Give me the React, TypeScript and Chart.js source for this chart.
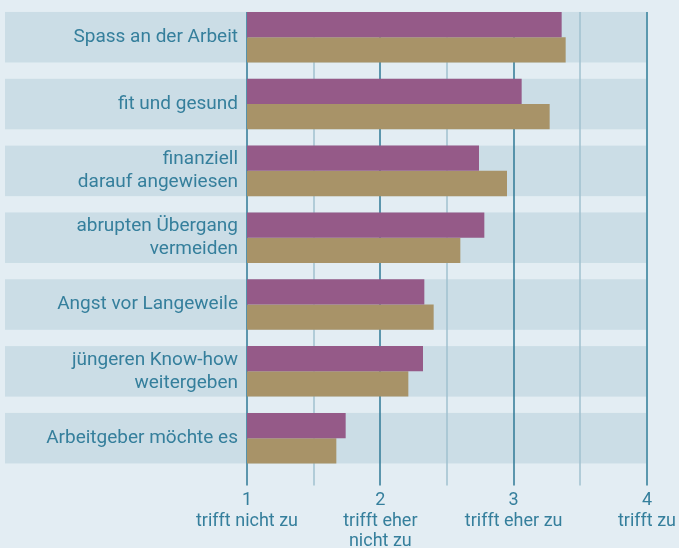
import React, { useEffect, useRef } from "react";
import { Chart, registerables } from "chart.js";

Chart.register(...registerables);

const categories: (string | string[])[] = [
  "Spass an der Arbeit",
  "fit und gesund",
  ["finanziell", "darauf angewiesen"],
  ["abrupten Übergang", "vermeiden"],
  "Angst vor Langeweile",
  ["jüngeren Know-how", "weitergeben"],
  "Arbeitgeber möchte es",
];

const seriesPurple = [3.36, 3.06, 2.74, 2.78, 2.33, 2.32, 1.74];
const seriesTan = [3.39, 3.27, 2.95, 2.6, 2.4, 2.21, 1.67];

const tickLabels: Record<number, string[]> = {
  1: ["1", "trifft nicht zu"],
  2: ["2", "trifft eher", "nicht zu"],
  3: ["3", "trifft eher zu"],
  4: ["4", "trifft zu"],
};

const BG = "#e3edf3";
const BAND = "#cbdde6";
const TEXT = "#357f9c";
const PURPLE = "#955a88";
const TAN = "#a89368";
const CAT_PCT = 0.756;

const decorPlugin = {
  id: "decor",
  beforeDraw(chart: any) {
    const { ctx, chartArea, scales } = chart;
    ctx.save();
    ctx.fillStyle = BG;
    ctx.fillRect(0, 0, chart.width, chart.height);
    const y = scales.y;
    const n = categories.length;
    const pitch = (chartArea.bottom - chartArea.top) / n;
    const h = pitch * CAT_PCT;
    ctx.fillStyle = BAND;
    for (let i = 0; i < n; i++) {
      const c = y.getPixelForValue(i);
      ctx.fillRect(5, c - h / 2, chartArea.right - 5, h);
    }
    ctx.restore();
  },
  beforeDatasetsDraw(chart: any) {
    const { ctx, chartArea, scales } = chart;
    const x = scales.x;
    const n = categories.length;
    const pitch = (chartArea.bottom - chartArea.top) / n;
    const top = chartArea.top + (pitch * (1 - CAT_PCT)) / 2;
    const bottom = chartArea.bottom + 14;
    ctx.save();
    for (const t of x.ticks) {
      const v = t.value;
      const px = Math.round(x.getPixelForValue(v));
      const isInt = Math.abs(v - Math.round(v)) < 1e-6;
      if (v === 4) {
        ctx.strokeStyle = "#5b98ae";
        ctx.lineWidth = 2;
      } else if (isInt) {
        ctx.strokeStyle = "#2f7896";
        ctx.lineWidth = 1.5;
      } else {
        ctx.strokeStyle = "#a0c1cf";
        ctx.lineWidth = 1.5;
      }
      ctx.beginPath();
      ctx.moveTo(px, top);
      ctx.lineTo(px, bottom);
      ctx.stroke();
    }
    ctx.restore();
  },
};

export default function App() {
  const ref = useRef<HTMLCanvasElement>(null);
  useEffect(() => {
    document.body.style.margin = "0";
    const canvas = ref.current!;
    const chart = new Chart(canvas, {
      type: "bar",
      data: {
        labels: categories as any,
        datasets: [
          {
            label: "Gruppe 1",
            data: seriesPurple,
            backgroundColor: PURPLE,
            categoryPercentage: CAT_PCT,
            barPercentage: 1,
            borderWidth: 0,
          },
          {
            label: "Gruppe 2",
            data: seriesTan,
            backgroundColor: TAN,
            categoryPercentage: CAT_PCT,
            barPercentage: 1,
            borderWidth: 0,
          },
        ],
      },
      options: {
        indexAxis: "y",
        animation: false,
        responsive: false,
        devicePixelRatio: 1,
        layout: { padding: { top: 3.8, left: 0, right: 32, bottom: 0 } },
        plugins: {
          legend: { display: false },
          tooltip: { enabled: false },
        },
        scales: {
          x: {
            min: 1,
            max: 4,
            grid: { display: true, color: "rgba(0,0,0,0)", drawTicks: false },
            border: { display: false },
            ticks: {
              stepSize: 0.5,
              autoSkip: false,
              maxRotation: 0,
              padding: 19,
              color: TEXT,
              font: { family: "Roboto", size: 18, lineHeight: 1.14 },
              callback: (v: any) => {
                const n = Number(v);
                return tickLabels[n] ? tickLabels[n] : "";
              },
            },
            afterFit: (scale: any) => {
              scale.height = 76.4;
              scale.paddingLeft = 0;
              scale.paddingRight = 0;
            },
          },
          y: {
            grid: { display: false, drawTicks: false },
            border: { display: false },
            ticks: {
              padding: 9,
              color: TEXT,
              font: { family: "Roboto", size: 19, lineHeight: 1.22 },
            },
            afterFit: (scale: any) => {
              scale.width = 247;
              scale.paddingTop = 0;
              scale.paddingBottom = 0;
            },
          },
        },
      },
      plugins: [decorPlugin],
    });
    return () => chart.destroy();
  }, []);
  return (
    <div style={{ width: 679, height: 548 }}>
      <canvas ref={ref} width={679} height={548} style={{ display: "block" }} />
    </div>
  );
}
